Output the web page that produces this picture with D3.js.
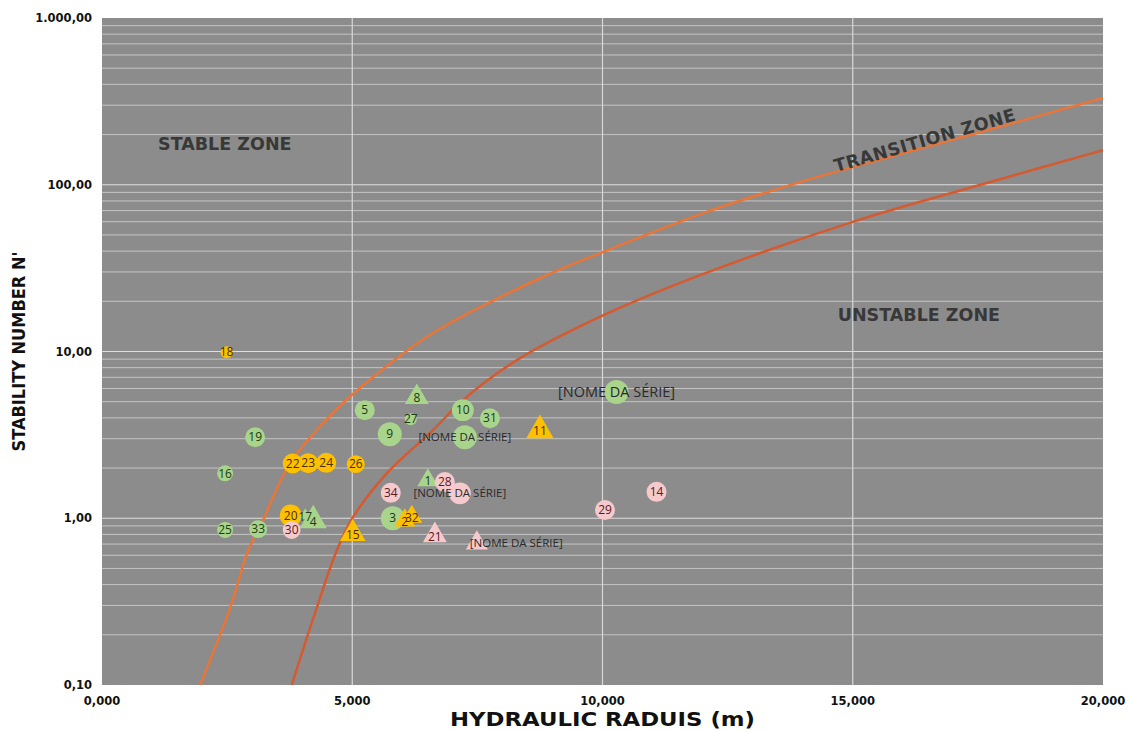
<!DOCTYPE html>
<html>
<head>
<meta charset="utf-8">
<style>
  body { margin: 0; background: #fff; }
  svg { display: block; }
  .tick-label { font-family: 'DejaVu Sans', sans-serif; font-weight: bold; font-size: 11.5px; fill: #111; }
  .axis-title { font-family: 'DejaVu Sans Condensed', 'DejaVu Sans', sans-serif; font-stretch: condensed; font-weight: bold; fill: #111; }
  .zone { font-family: 'DejaVu Sans', sans-serif; font-weight: bold; font-size: 17.5px; fill: #383838; }
  .pt-label { font-family: 'Open Sans', sans-serif; font-size: 12px; }
</style>
</head>
<body>
<svg id="chart" width="1128" height="731"></svg>

<script src="https://d3js.org/d3.v7.min.js"></script>
<script>
// ---- data (hydraulic radius in m, stability number N') ----
const xTicks = [0, 5, 10, 15, 20];
const yTicks = [0.1, 1, 10, 100, 1000];

// zone boundary curves
const upperR = [1.96, 2.56, 2.92, 3.16, 3.76, 4.61, 5.41, 6.61, 8.75, 10.02, 12.08, 14.08, 15.0, 17.5, 20];
const upperN = [0.1, 0.29, 0.64, 0.89, 2.14, 4.27, 7.0, 12.9, 27.5, 39.6, 68.8, 106.6, 127.6, 205, 331];
const lowerR = [3.79, 4.29, 4.69, 5.01, 5.69, 6.61, 7.21, 8.29, 10.02, 11.95, 15.0, 17.5, 20];
const lowerN = [0.1, 0.29, 0.64, 1.01, 1.86, 3.37, 5.1, 8.87, 16.5, 28.7, 59.9, 99, 161];

// measured points
const pointLabel = ["18", "8", "5", "10", "27", "31", "9", "[NOME DA SÉRIE]", "19", "22", "23", "24", "26", "16",
  "1", "28", "[NOME DA SÉRIE]", "34", "20", "17", "4", "3", "2", "32", "25", "33", "30", "15", "21",
  "[NOME DA SÉRIE]", "[NOME DA SÉRIE]", "11", "14", "29"];
const pointR = [2.49, 6.29, 5.25, 7.21, 6.17, 7.75, 5.75, 7.25, 3.06, 3.81, 4.12, 4.48, 5.07, 2.46,
  6.51, 6.85, 7.15, 5.77, 3.77, 4.06, 4.22, 5.81, 6.05, 6.19, 2.46, 3.12, 3.79, 5.01, 6.65,
  7.49, 10.28, 8.75, 11.08, 10.05];
const pointN = [9.9, 5.32, 4.45, 4.45, 3.93, 3.98, 3.19, 3.06, 3.06, 2.13, 2.14, 2.15, 2.11, 1.86,
  1.69, 1.65, 1.41, 1.42, 1.04, 1.04, 0.97, 1.0, 0.97, 1.02, 0.85, 0.86, 0.85, 0.81, 0.79,
  0.71, 5.72, 3.37, 1.44, 1.12];
const pointWeight = [0.36, 1.3, 1.0, 1.2, 0.36, 1.0, 1.44, 1.44, 1.0, 1.0, 1.0, 1.0, 0.8, 0.64,
  1.0, 1.0, 1.2, 1.0, 1.2, 0.36, 1.7, 1.44, 1.0, 1.0, 0.64, 0.8, 0.8, 1.5, 1.3,
  1.1, 1.44, 1.7, 1.0, 1.0];
const pointGroup = ["yellow", "green", "green", "green", "green", "green", "green", "green", "green", "yellow", "yellow", "yellow", "yellow", "green",
  "green", "pink", "pink", "pink", "yellow", "green", "green", "green", "yellow", "yellow", "green", "green", "pink", "yellow", "pink",
  "pink", "green", "yellow", "pink", "pink"];
const pointShape = ["circle", "triangle", "circle", "circle", "circle", "circle", "circle", "circle", "circle", "circle", "circle", "circle", "circle", "circle",
  "triangle", "circle", "circle", "circle", "circle", "triangle", "triangle", "circle", "triangle", "triangle", "circle", "circle", "circle", "triangle", "triangle",
  "triangle", "circle", "triangle", "circle", "circle"];

const groupFill = { green: "#a9d48c", pink: "#f6c9cd", yellow: "#ffc000" };
const groupText = { green: "#1f3a12", pink: "#5a1a1a", yellow: "#4a2e00" };

const width = 1128, height = 731;
const plotLeft = 102, plotRight = 1103, plotTop = 18, plotBottom = 685;

const svg = d3.select("#chart");

const x = d3.scaleLinear().domain([0, 20]).range([plotLeft, plotRight]);
const y = d3.scaleLog().domain([0.1, 1000]).range([plotBottom, plotTop]);
const size = d3.scaleSqrt().domain([0, 1]).range([0, 10]);

const ptBR = d3.formatLocale({ decimal: ",", thousands: ".", grouping: [3], currency: ["R$", ""] });
const fx = ptBR.format(",.3f");
const fy = ptBR.format(",.2f");

// plot background
svg.append("rect")
  .attr("x", plotLeft).attr("y", plotTop)
  .attr("width", plotRight - plotLeft).attr("height", plotBottom - plotTop)
  .attr("fill", "#8c8c8c");

// minor horizontal gridlines
let minor = [];
yTicks.slice(0, -1).forEach(d => { for (let k = 2; k <= 9; k++) minor.push(d * k); });

svg.append("g")
  .selectAll("line")
  .data(minor)
  .join("line")
  .attr("x1", plotLeft).attr("x2", plotRight)
  .attr("y1", d => y(d)).attr("y2", d => y(d))
  .attr("stroke", "#c4c4c4")
  .attr("stroke-width", 1);

svg.append("g")
  .selectAll("line")
  .data(yTicks.slice(1, -1))
  .join("line")
  .attr("x1", plotLeft).attr("x2", plotRight)
  .attr("y1", d => y(d)).attr("y2", d => y(d))
  .attr("stroke", "#dedede")
  .attr("stroke-width", 1.2);

svg.append("g")
  .selectAll("line")
  .data(xTicks.slice(1, -1))
  .join("line")
  .attr("x1", d => x(d)).attr("x2", d => x(d))
  .attr("y1", plotTop).attr("y2", plotBottom)
  .attr("stroke", "#d8d8d8")
  .attr("stroke-width", 1.2);

// tick labels
svg.append("g")
  .selectAll("text")
  .data(yTicks)
  .join("text")
  .attr("class", "tick-label")
  .attr("x", plotLeft - 10)
  .attr("y", d => y(d))
  .attr("dy", "0.35em")
  .attr("text-anchor", "end")
  .text(d => fy(d));

svg.append("g")
  .selectAll("text")
  .data(xTicks)
  .join("text")
  .attr("class", "tick-label")
  .attr("x", d => x(d))
  .attr("y", plotBottom + 20)
  .attr("text-anchor", "middle")
  .text(d => fx(d));

// axis titles
svg.append("text")
  .attr("class", "axis-title")
  .attr("x", (plotLeft + plotRight) / 2)
  .attr("y", 726)
  .attr("text-anchor", "middle")
  .attr("textLength", 305)
  .attr("lengthAdjust", "spacingAndGlyphs")
  .style("font-size", "20px")
  .text("HYDRAULIC RADUIS  (m)");

svg.append("text")
  .attr("class", "axis-title")
  .attr("transform", "translate(25," + ((plotTop + plotBottom) / 2) + ") rotate(-90)")
  .attr("text-anchor", "middle")
  .style("font-size", "18px")
  .text("STABILITY NUMBER N'");

// zone curves
svg.append("clipPath").attr("id", "plot-clip")
  .append("rect")
  .attr("x", plotLeft).attr("y", plotTop)
  .attr("width", plotRight - plotLeft).attr("height", plotBottom - plotTop);

let line = d3.line()
  .x(d => x(d[0]))
  .y(d => y(d[1]))
  .curve(d3.curveCatmullRom.alpha(0.5));

let curves = svg.append("g").attr("clip-path", "url(#plot-clip)");

curves.append("path")
  .datum(d3.zip(upperR, upperN))
  .attr("d", line)
  .attr("fill", "none")
  .attr("stroke", "#ea7536")
  .attr("stroke-width", 2.5);

curves.append("path")
  .datum(d3.zip(lowerR, lowerN))
  .attr("d", line)
  .attr("fill", "none")
  .attr("stroke", "#d65a30")
  .attr("stroke-width", 2.5);

// zone labels
svg.append("text").attr("class", "zone")
  .attr("x", x(1.12)).attr("y", y(175)).attr("dy", "0.35em")
  .text("STABLE ZONE");

svg.append("text").attr("class", "zone")
  .attr("x", x(14.7)).attr("y", y(16.5)).attr("dy", "0.35em")
  .text("UNSTABLE ZONE");

svg.append("text").attr("class", "zone")
  .attr("transform", "translate(" + x(16.44) + "," + y(185) + ") rotate(-16)")
  .attr("text-anchor", "middle")
  .attr("dy", "0.35em")
  .style("letter-spacing", "0.5px")
  .text("TRANSITION ZONE");

// points
const points = pointLabel.map((label, i) => ({
  label: label, r: pointR[i], n: pointN[i], w: pointWeight[i],
  group: pointGroup[i], shape: pointShape[i]
}));

svg.append("g")
  .selectAll("path")
  .data(points)
  .join("path")
  .attr("transform", d => "translate(" + x(d.r) + "," + y(d.n) + ")")
  .attr("d", d => {
    let rad = size(d.w);
    if (d.shape === "triangle") return d3.symbol(d3.symbolTriangle, rad * rad * 1.9)();
    return d3.symbol(d3.symbolCircle, Math.PI * rad * rad)();
  })
  .attr("fill", d => groupFill[d.group]);

svg.append("g")
  .selectAll("text")
  .data(points)
  .join("text")
  .attr("class", "pt-label")
  .attr("x", d => {
    if (d.label.length > 3 && d.shape === "triangle") return x(d.r) - 7;
    return x(d.r);
  })
  .attr("y", d => y(d.n) + (d.shape === "triangle" && d.label.length <= 3 ? 1 : 0))
  .attr("dy", "0.35em")
  .attr("text-anchor", d => d.label.length > 3 && d.shape === "triangle" ? "start" : "middle")
  .attr("fill", d => d.label.length > 3 ? "#2a2a2a" : groupText[d.group])
  .style("font-size", d => d.label.length > 3 ? (d.r > 10 ? "14.5px" : "11.5px") : "12px")
  .text(d => d.label);
</script>
</body>
</html>
